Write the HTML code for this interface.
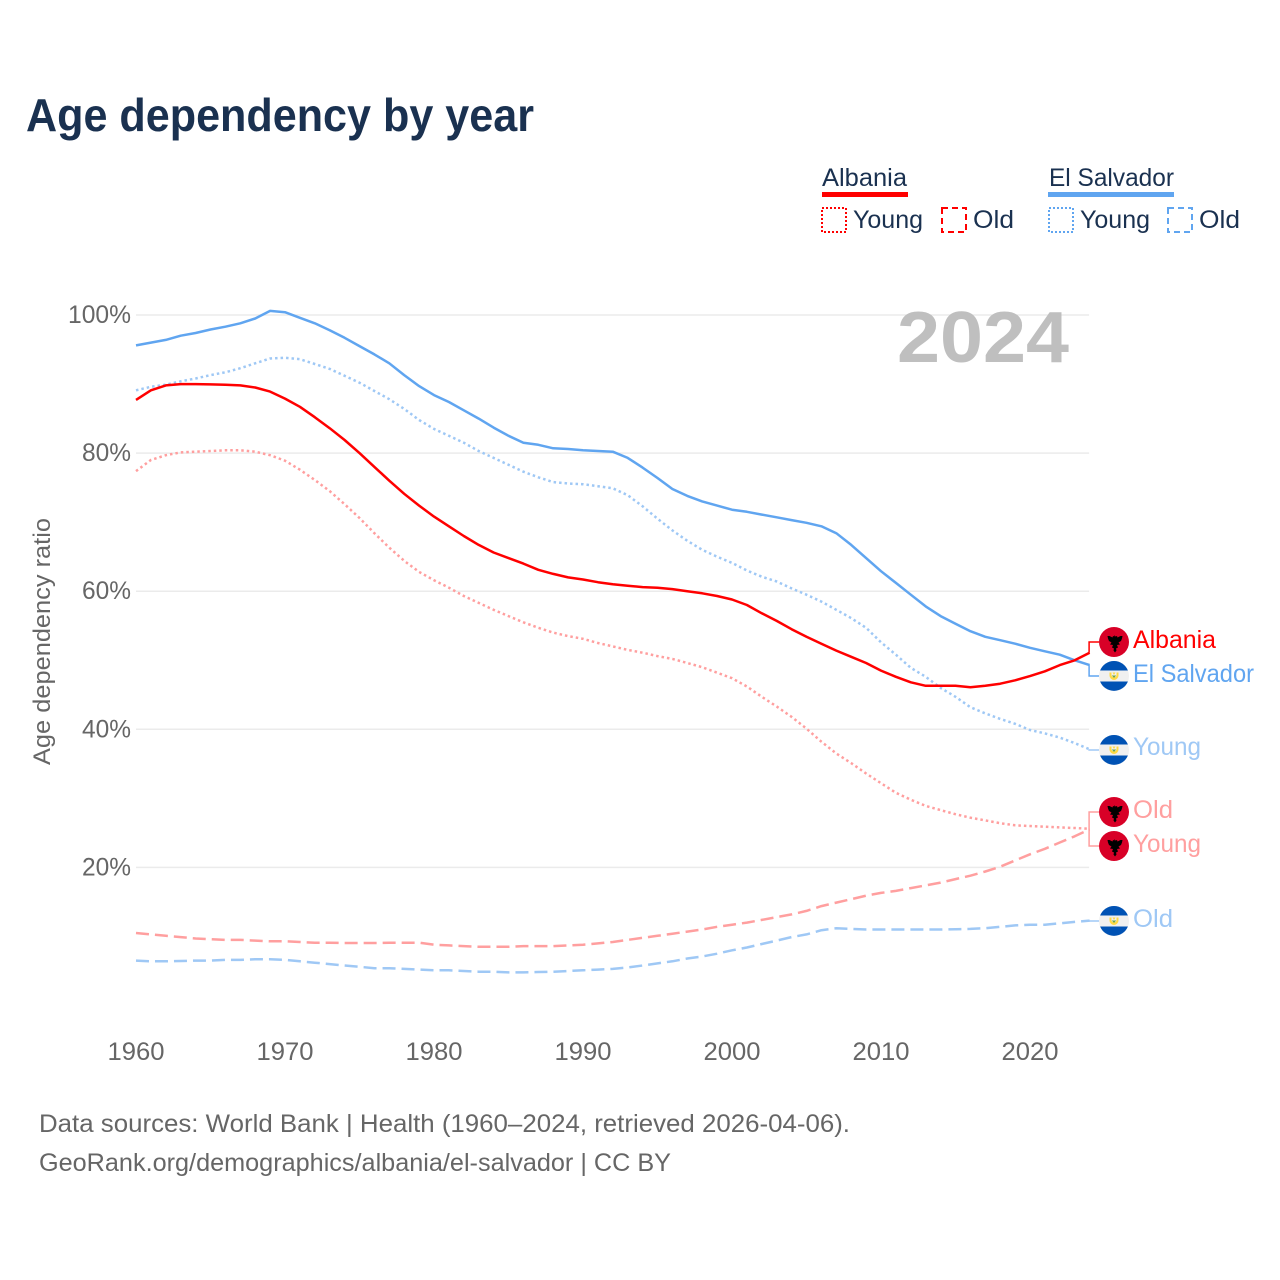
<!DOCTYPE html>
<html lang="en">
<head>
<meta charset="utf-8">
<title>Age dependency by year</title>
<style>
html,body{margin:0;padding:0;background:#fff;}
svg{display:block;font-family:"Liberation Sans",sans-serif;}
.leg{fill:#1a3150;font-size:25px;}
.tick{fill:#666;font-size:25px;}
.foot{fill:#666;font-size:25px;}
</style>
</head>
<body>
<svg id="chart" xmlns="http://www.w3.org/2000/svg" width="1280" height="1280" viewBox="0 0 1280 1280">
  <defs>
    <symbol id="flag-al" viewBox="0 0 30 30">
      <circle cx="15" cy="15" r="15" fill="#d80027"/>
      <path d="M15 8l1.500 1.500 1.500-.5 .5 1.500 3-1.500 2 0-.5 2.500-1 2.500-2.500 1.500 1.500 2-3 .5 1 2.500-2 1 .5 2-1.500 2-1.500-2 .5-2-2-1 1-2.500-3-.5 1.500-2-2.500-1.500-1-2.500-.5-2.500 2 0 3 1.500 .5-1.500 1.500 .5z" fill="#000"/>
    </symbol>
    <symbol id="flag-sv" viewBox="0 0 30 30">
      <circle cx="15" cy="15" r="15" fill="#f0f0f0"/>
      <path d="M15 0A15 15 0 0 1 28.900 9.500H1.100A15 15 0 0 1 15 0z" fill="#0052b4"/>
      <path d="M1.100 20.500H28.900A15 15 0 0 1 1.100 20.500z" fill="#0052b4"/>
      <path d="M10.500 11.500h2v2.500a2.500 2.500 0 0 0 5 0v-2.500h2v3a4.500 4.500 0 0 1-9 0z" fill="#ffda44"/>
      <path d="M12.800 14.500h4.400l-2.200 2.500z" fill="#6da544"/>
      <path d="M13.500 11.500h3l-1.500 2.500z" fill="#ffda44"/>
    </symbol>
  </defs>

  <text x="26" y="131" font-size="46" font-weight="700" fill="#1a3150" textLength="508" lengthAdjust="spacingAndGlyphs">Age dependency by year</text>

  <g>
    <text class="leg" x="822" y="186" textLength="85" lengthAdjust="spacingAndGlyphs">Albania</text>
    <rect x="822" y="192" width="86" height="5" fill="#ff0000"/>
    <rect x="822" y="208" width="24" height="24" fill="none" stroke="#ff0000" stroke-width="2" stroke-dasharray="2 2"/>
    <text class="leg" x="853" y="228" textLength="70" lengthAdjust="spacingAndGlyphs">Young</text>
    <rect x="942" y="208" width="24" height="24" fill="none" stroke="#ff0000" stroke-width="2" stroke-dasharray="6 4"/>
    <text class="leg" x="973" y="228" textLength="41" lengthAdjust="spacingAndGlyphs">Old</text>

    <text class="leg" x="1049" y="186" textLength="125" lengthAdjust="spacingAndGlyphs">El Salvador</text>
    <rect x="1048" y="192" width="126" height="5" fill="#60a5f0"/>
    <rect x="1049" y="208" width="24" height="24" fill="none" stroke="#60a5f0" stroke-width="2" stroke-dasharray="2 2"/>
    <text class="leg" x="1080" y="228" textLength="70" lengthAdjust="spacingAndGlyphs">Young</text>
    <rect x="1168" y="208" width="24" height="24" fill="none" stroke="#60a5f0" stroke-width="2" stroke-dasharray="6 4"/>
    <text class="leg" x="1199" y="228" textLength="41" lengthAdjust="spacingAndGlyphs">Old</text>
  </g>

  <g id="grid"></g>
  <text x="897" y="362" font-size="72" font-weight="700" fill="#bfbfbf" textLength="172" lengthAdjust="spacingAndGlyphs">2024</text>
  <g id="yticks"></g>
  <g id="xticks"></g>
  <text class="tick" style="font-size:24px" transform="translate(50,765) rotate(-90)" x="0" y="0" textLength="247" lengthAdjust="spacingAndGlyphs">Age dependency ratio</text>

  <g id="series"></g>
  <g id="leaders"></g>

  <g>
    <use href="#flag-al" x="1099" y="627" width="30" height="30"/>
    <use href="#flag-sv" x="1099" y="661" width="30" height="30"/>
    <use href="#flag-sv" x="1099" y="735" width="30" height="30"/>
    <use href="#flag-al" x="1099" y="797" width="30" height="30"/>
    <use href="#flag-al" x="1099" y="831" width="30" height="30"/>
    <use href="#flag-sv" x="1099" y="906" width="30" height="30"/>
    <text font-size="25" fill="#ff0000" x="1133" y="648" textLength="83" lengthAdjust="spacingAndGlyphs">Albania</text>
    <text font-size="25" fill="#60a5f0" x="1133" y="682" textLength="121" lengthAdjust="spacingAndGlyphs">El Salvador</text>
    <text font-size="25" fill="#9fc8f5" x="1133" y="755" textLength="68" lengthAdjust="spacingAndGlyphs">Young</text>
    <text font-size="25" fill="#ff9f9f" x="1133" y="818" textLength="40" lengthAdjust="spacingAndGlyphs">Old</text>
    <text font-size="25" fill="#ff9f9f" x="1133" y="852" textLength="68" lengthAdjust="spacingAndGlyphs">Young</text>
    <text font-size="25" fill="#9fc8f5" x="1133" y="927" textLength="40" lengthAdjust="spacingAndGlyphs">Old</text>
  </g>

  <text class="foot" x="39" y="1132" textLength="811" lengthAdjust="spacingAndGlyphs">Data sources: World Bank | Health (1960–2024, retrieved 2026-04-06).</text>
  <text class="foot" x="39" y="1171" textLength="632" lengthAdjust="spacingAndGlyphs">GeoRank.org/demographics/albania/el-salvador | CC BY</text>
</svg>
<script>
const startYear = 1960;
const xTickYears = [1960, 1970, 1980, 1990, 2000, 2010, 2020];
const yTickValues = [100, 80, 60, 40, 20];
const yTickLabels = ["100%", "80%", "60%", "40%", "20%"];

const elSalvadorTotal = [95.6,96,96.4,97,97.4,97.9,98.3,98.8,99.5,100.6,100.4,99.6,98.8,97.8,96.7,95.5,94.3,93,91.3,89.7,88.4,87.4,86.2,85,83.7,82.5,81.5,81.2,80.7,80.6,80.4,80.3,80.2,79.3,77.9,76.4,74.8,73.8,73,72.4,71.8,71.5,71.1,70.7,70.3,69.9,69.4,68.4,66.7,64.8,62.9,61.2,59.5,57.8,56.4,55.3,54.2,53.4,52.9,52.4,51.8,51.3,50.8,50,49.3];
const albaniaTotal = [87.7,89.1,89.8,90,90,89.95,89.9,89.8,89.5,88.9,87.9,86.7,85.2,83.6,81.9,80,78,76,74.1,72.4,70.8,69.4,68,66.7,65.6,64.8,64,63.1,62.5,62,61.7,61.3,61,60.8,60.6,60.5,60.3,60,59.7,59.3,58.8,58,56.8,55.7,54.5,53.4,52.4,51.4,50.5,49.6,48.5,47.6,46.8,46.3,46.3,46.3,46.1,46.3,46.6,47.1,47.7,48.4,49.3,50,51.1];
const elSalvadorYoung = [89.1,89.6,89.9,90.4,90.8,91.3,91.7,92.3,93,93.7,93.8,93.6,92.9,92.2,91.2,90.2,89,87.8,86.4,84.8,83.5,82.5,81.5,80.3,79.3,78.3,77.3,76.5,75.8,75.6,75.5,75.2,74.9,73.9,72.3,70.5,68.8,67.3,66,65,64.1,63,62.1,61.4,60.4,59.5,58.5,57.3,56.1,54.7,52.6,50.8,48.9,47.6,46,44.7,43.2,42.3,41.5,40.8,39.9,39.4,38.8,38,37.1];
const albaniaYoung = [77.4,79,79.7,80.1,80.2,80.3,80.4,80.4,80.2,79.7,78.9,77.6,76.1,74.5,72.6,70.6,68.4,66.3,64.4,62.8,61.6,60.5,59.3,58.3,57.3,56.4,55.5,54.7,54,53.5,53.1,52.5,52,51.5,51.1,50.6,50.2,49.6,49,48.2,47.4,46.2,44.7,43.3,41.8,40.1,38.2,36.5,35.1,33.6,32.2,30.8,29.8,28.9,28.3,27.7,27.2,26.8,26.4,26.1,26,25.9,25.8,25.7,25.6];
const albaniaOld = [10.5,10.3,10.1,9.9,9.7,9.6,9.5,9.5,9.4,9.3,9.3,9.2,9.1,9.1,9.05,9.05,9.05,9.1,9.1,9.1,8.8,8.7,8.6,8.5,8.5,8.5,8.6,8.6,8.6,8.7,8.8,9,9.2,9.5,9.8,10.1,10.4,10.7,11,11.4,11.7,12,12.4,12.8,13.2,13.7,14.4,14.9,15.4,15.9,16.3,16.6,17,17.4,17.8,18.3,18.8,19.4,20.1,21,21.9,22.7,23.6,24.5,25.5];
const elSalvadorOld = [6.5,6.4,6.4,6.45,6.5,6.5,6.6,6.6,6.7,6.7,6.6,6.4,6.2,6,5.8,5.6,5.4,5.4,5.3,5.2,5.1,5.1,5,4.9,4.9,4.8,4.8,4.85,4.9,5,5.1,5.2,5.3,5.5,5.8,6.1,6.4,6.8,7.1,7.5,8,8.4,8.9,9.4,9.9,10.3,10.9,11.2,11.1,11,11,11,11,11,11,11.05,11.1,11.2,11.4,11.6,11.7,11.7,11.9,12.1,12.3];

const NS = "http://www.w3.org/2000/svg";
const xScale = function (year) { return 136 + (year - 1960) * 14.9; };
const yScale = function (v) { return 315 + (100 - v) * 6.905; };
const xEnd = xScale(2024) - 0.5;
const elSalvadorColor = "#60a5f0";
const elSalvadorLight = "#9fc8f5";
const albaniaColor = "#ff0000";
const albaniaLight = "#ff9f9f";

const gridGroup = document.getElementById("grid");
const yTickGroup = document.getElementById("yticks");
const xTickGroup = document.getElementById("xticks");
const seriesGroup = document.getElementById("series");
const leaderGroup = document.getElementById("leaders");

yTickValues.forEach(function (v, i) {
  const line = document.createElementNS(NS, "line");
  
  
  line.setAttribute("x1", 136);
  line.setAttribute("x2", xEnd);
  line.setAttribute("y1", yScale(v));
  line.setAttribute("y2", yScale(v));
  line.setAttribute("stroke", "#ebebeb");
  line.setAttribute("stroke-width", 1.5);
  gridGroup.appendChild(line);

  const label = document.createElementNS(NS, "text");
  
  
  label.setAttribute("class", "tick");
  label.setAttribute("x", 131);
  label.setAttribute("y", yScale(v) + 8);
  label.setAttribute("text-anchor", "end");
  label.setAttribute("textLength", v === 100 ? 63 : 49);
  label.setAttribute("lengthAdjust", "spacingAndGlyphs");
  label.textContent = yTickLabels[i];
  yTickGroup.appendChild(label);
});

xTickYears.forEach(function (year) {
  const label = document.createElementNS(NS, "text");
  
  
  label.setAttribute("class", "tick");
  label.setAttribute("x", xScale(year));
  label.setAttribute("y", 1060);
  label.setAttribute("text-anchor", "middle");
  label.setAttribute("textLength", 57);
  label.setAttribute("lengthAdjust", "spacingAndGlyphs");
  label.textContent = String(year);
  xTickGroup.appendChild(label);
});

function drawSeries(values, color, dash, name) {
  const path = document.createElementNS(NS, "path");
  
  
  const d = values.map(function (v, i) {
    return (i ? "L" : "M") + xScale(startYear + i).toFixed(1) + " " + yScale(v).toFixed(1);
  }).join("");
  path.setAttribute("d", d);
  path.setAttribute("fill", "none");
  path.setAttribute("stroke", color);
  path.setAttribute("stroke-width", 2.5);
  path.setAttribute("stroke-linejoin", "round");
  if (dash) path.setAttribute("stroke-dasharray", dash);
  seriesGroup.appendChild(path);
}

drawSeries(albaniaOld, albaniaLight, "13 6", "line-albania-old");
drawSeries(elSalvadorOld, elSalvadorLight, "13 6", "line-el-salvador-old");
drawSeries(albaniaYoung, albaniaLight, "2.5 3", "line-albania-young");
drawSeries(elSalvadorYoung, elSalvadorLight, "2.5 3", "line-el-salvador-young");
drawSeries(elSalvadorTotal, elSalvadorColor, null, "line-el-salvador-total");
drawSeries(albaniaTotal, albaniaColor, null, "line-albania-total");

function drawLeader(values, labelY, color, name) {
  const last = yScale(values[values.length - 1]);
  const path = document.createElementNS(NS, "path");
  
  
  path.setAttribute("d", "M" + xEnd + " " + last + "L" + xEnd + " " + labelY + "L1099 " + labelY);
  path.setAttribute("fill", "none");
  path.setAttribute("stroke", color);
  path.setAttribute("stroke-width", 1.5);
  leaderGroup.appendChild(path);
}

drawLeader(albaniaTotal, 642, albaniaColor, "leader-albania-total");
drawLeader(elSalvadorTotal, 676, elSalvadorColor, "leader-el-salvador-total");
drawLeader(elSalvadorYoung, 750, elSalvadorLight, "leader-el-salvador-young");
drawLeader(albaniaOld, 812, albaniaLight, "leader-albania-old");
drawLeader(albaniaYoung, 846, albaniaLight, "leader-albania-young");
drawLeader(elSalvadorOld, 921, elSalvadorLight, "leader-el-salvador-old");
</script>
</body>
</html>
